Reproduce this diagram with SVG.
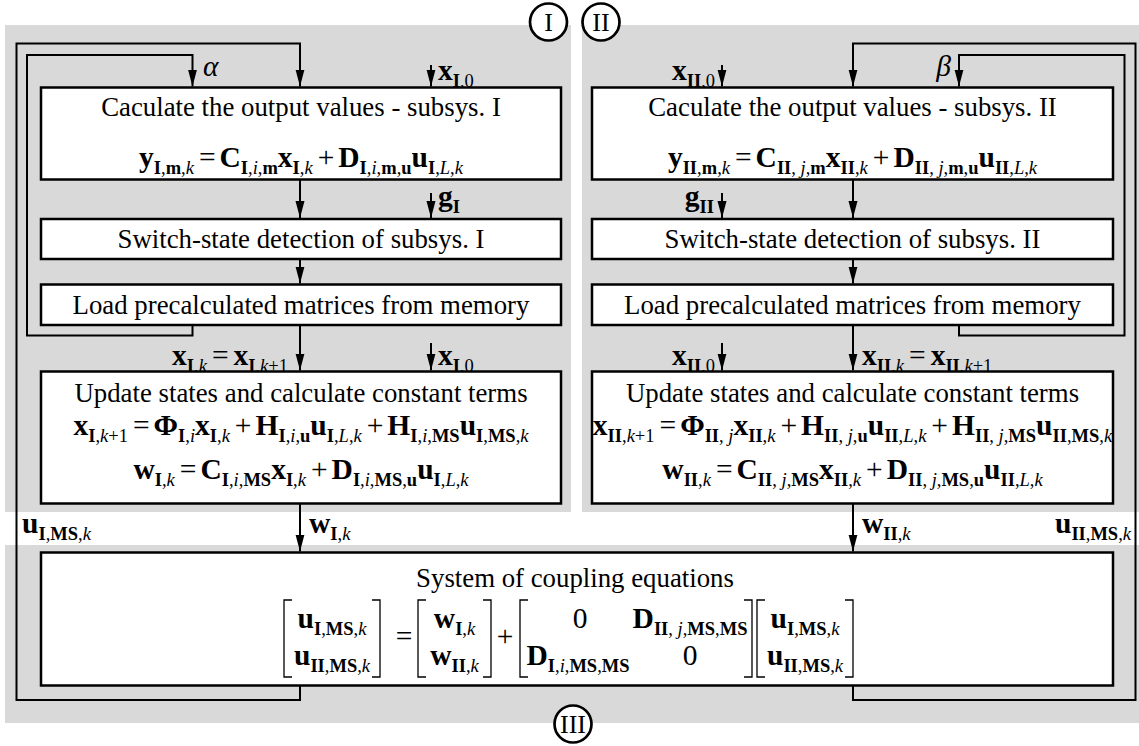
<svg xmlns="http://www.w3.org/2000/svg" width="1139" height="746" viewBox="0 0 1139 746">
<style>
.reg{fill:#d9d9d9}
.box{fill:#fff;stroke:#000;stroke-width:2.5}
.ln{fill:none;stroke:#000;stroke-width:2}
.circ{fill:#fff;stroke:#000;stroke-width:2.7}
.br{fill:none;stroke:#000;stroke-width:1.3}
text{font-family:"Liberation Serif","Times New Roman",serif;fill:#000}
.ttl{font-size:26.8px;text-anchor:middle}
.eq{font-size:29.5px;text-anchor:middle}
.lb{font-size:29.5px}
.end{text-anchor:end}
.mid{text-anchor:middle}
.b{font-weight:bold}
.i{font-style:italic}
.s{font-size:18.5px}
.cn{font-size:26px;text-anchor:middle}
</style>
<defs>
<marker id="ah" markerUnits="userSpaceOnUse" markerWidth="17" markerHeight="10" refX="17" refY="4.5" orient="auto">
<path d="M0,0 L17,4.5 L0,9 Z" fill="#000"/>
</marker>
</defs>
<g id="regions">
<rect class="reg" x="5" y="25" width="566" height="487"/>
<rect class="reg" x="582" y="25" width="557" height="487"/>
<rect class="reg" x="5" y="545" width="1134" height="178"/>
</g>
<g id="connectors">
<path class="ln" d="M300,685.5 V700 H16.5 V43.5 H300 V86.5" marker-end="url(#ah)"/>
<path class="ln" d="M192.5,325 V335.5 H27 V55 H192.5 V86.5" marker-end="url(#ah)"/>
<path class="ln" d="M300,179.5 V218" marker-end="url(#ah)"/>
<path class="ln" d="M300,259 V283.5" marker-end="url(#ah)"/>
<path class="ln" d="M300,325 V370.5" marker-end="url(#ah)"/>
<path class="ln" d="M300,503.5 V551.5" marker-end="url(#ah)"/>
<path class="ln" d="M431,65 V86.5" marker-end="url(#ah)"/>
<path class="ln" d="M431,193 V218" marker-end="url(#ah)"/>
<path class="ln" d="M431,343 V370.5" marker-end="url(#ah)"/>
<path class="ln" d="M853,685.5 V700 H1135.5 V43.5 H853 V86.5" marker-end="url(#ah)"/>
<path class="ln" d="M959,325 V335.5 H1124.5 V55 H959 V86.5" marker-end="url(#ah)"/>
<path class="ln" d="M853,179.5 V218" marker-end="url(#ah)"/>
<path class="ln" d="M853,259 V283.5" marker-end="url(#ah)"/>
<path class="ln" d="M853,325 V370.5" marker-end="url(#ah)"/>
<path class="ln" d="M853,503.5 V551.5" marker-end="url(#ah)"/>
<path class="ln" d="M722,65 V86.5" marker-end="url(#ah)"/>
<path class="ln" d="M722,193 V218" marker-end="url(#ah)"/>
<path class="ln" d="M722,343 V370.5" marker-end="url(#ah)"/>
</g>
<g id="labels">
<text class="lb i" x="203" y="76">α</text>
<text class="lb" x="438" y="80"><tspan class="b">x</tspan><tspan class="s" dy="6.5"><tspan class="b">I</tspan>,0</tspan></text>
<text class="lb" x="438" y="206"><tspan class="b">g</tspan><tspan class="s b" dy="6.5">I</tspan></text>
<text class="lb end" x="288" y="365"><tspan class="b">x</tspan><tspan class="s" dy="6.5"><tspan class="b">I</tspan>,<tspan class="i">k</tspan></tspan><tspan dy="-6.5" dx="5">=</tspan><tspan class="b" dx="5">x</tspan><tspan class="s" dy="6.5"><tspan class="b">I</tspan>,<tspan class="i">k</tspan>+1</tspan></text>
<text class="lb" x="438" y="365"><tspan class="b">x</tspan><tspan class="s" dy="6.5"><tspan class="b">I</tspan>,0</tspan></text>
<text class="lb" x="22" y="533"><tspan class="b">u</tspan><tspan class="s" dy="6.5"><tspan class="b">I</tspan>,<tspan class="b">MS</tspan>,<tspan class="i">k</tspan></tspan></text>
<text class="lb" x="309" y="533"><tspan class="b">w</tspan><tspan class="s" dy="6.5"><tspan class="b">I</tspan>,<tspan class="i">k</tspan></tspan></text>
<text class="lb i end" x="951" y="76">β</text>
<text class="lb end" x="715" y="80"><tspan class="b">x</tspan><tspan class="s" dy="6.5"><tspan class="b">II</tspan>,0</tspan></text>
<text class="lb end" x="714" y="206"><tspan class="b">g</tspan><tspan class="s b" dy="6.5">II</tspan></text>
<text class="lb end" x="715" y="365"><tspan class="b">x</tspan><tspan class="s" dy="6.5"><tspan class="b">II</tspan>,0</tspan></text>
<text class="lb" x="862" y="365"><tspan class="b">x</tspan><tspan class="s" dy="6.5"><tspan class="b">II</tspan>,<tspan class="i">k</tspan></tspan><tspan dy="-6.5" dx="5">=</tspan><tspan class="b" dx="5">x</tspan><tspan class="s" dy="6.5"><tspan class="b">II</tspan>,<tspan class="i">k</tspan>+1</tspan></text>
<text class="lb" x="862" y="533"><tspan class="b">w</tspan><tspan class="s" dy="6.5"><tspan class="b">II</tspan>,<tspan class="i">k</tspan></tspan></text>
<text class="lb end" x="1131" y="533"><tspan class="b">u</tspan><tspan class="s" dy="6.5"><tspan class="b">II</tspan>,<tspan class="b">MS</tspan>,<tspan class="i">k</tspan></tspan></text>
</g>
<g id="node-out1">
<rect class="box" x="41" y="87.5" width="520" height="92"/>
<text class="ttl" x="301" y="116">Caculate the output values - subsys. I</text>
<text class="eq" x="301" y="167"><tspan class="b">y</tspan><tspan class="s" dy="6.5"><tspan class="b">I</tspan>,<tspan class="b">m</tspan>,<tspan class="i">k</tspan></tspan><tspan dy="-6.5" dx="5">=</tspan><tspan class="b" dx="4">C</tspan><tspan class="s" dy="6.5"><tspan class="b">I</tspan>,<tspan class="i">i</tspan>,<tspan class="b">m</tspan></tspan><tspan class="b" dy="-6.5">x</tspan><tspan class="s" dy="6.5"><tspan class="b">I</tspan>,<tspan class="i">k</tspan></tspan><tspan dy="-6.5" dx="5">+</tspan><tspan class="b" dx="4">D</tspan><tspan class="s" dy="6.5"><tspan class="b">I</tspan>,<tspan class="i">i</tspan>,<tspan class="b">m</tspan>,<tspan class="b">u</tspan></tspan><tspan class="b" dy="-6.5">u</tspan><tspan class="s" dy="6.5"><tspan class="b">I</tspan>,<tspan class="i">L</tspan>,<tspan class="i">k</tspan></tspan></text>
</g>
<g id="node-switch1">
<rect class="box" x="41" y="219" width="520" height="40"/>
<text class="ttl" x="301" y="247.5">Switch-state detection of subsys. I</text>
</g>
<g id="node-load1">
<rect class="box" x="41" y="284.5" width="520" height="40.5"/>
<text class="ttl" x="301" y="313.5">Load precalculated matrices from memory</text>
</g>
<g id="node-update1">
<rect class="box" x="41" y="371.5" width="520" height="132"/>
<text class="ttl" x="301" y="401.5">Update states and calculate constant terms</text>
<text class="eq" x="301" y="435"><tspan class="b">x</tspan><tspan class="s" dy="6.5"><tspan class="b">I</tspan>,<tspan class="i">k</tspan>+1</tspan><tspan dy="-6.5" dx="5">=</tspan><tspan class="b" dx="4">Φ</tspan><tspan class="s" dy="6.5"><tspan class="b">I</tspan>,<tspan class="i">i</tspan></tspan><tspan class="b" dy="-6.5">x</tspan><tspan class="s" dy="6.5"><tspan class="b">I</tspan>,<tspan class="i">k</tspan></tspan><tspan dy="-6.5" dx="5">+</tspan><tspan class="b" dx="4">H</tspan><tspan class="s" dy="6.5"><tspan class="b">I</tspan>,<tspan class="i">i</tspan>,<tspan class="b">u</tspan></tspan><tspan class="b" dy="-6.5">u</tspan><tspan class="s" dy="6.5"><tspan class="b">I</tspan>,<tspan class="i">L</tspan>,<tspan class="i">k</tspan></tspan><tspan dy="-6.5" dx="5">+</tspan><tspan class="b" dx="4">H</tspan><tspan class="s" dy="6.5"><tspan class="b">I</tspan>,<tspan class="i">i</tspan>,<tspan class="b">MS</tspan></tspan><tspan class="b" dy="-6.5">u</tspan><tspan class="s" dy="6.5"><tspan class="b">I</tspan>,<tspan class="b">MS</tspan>,<tspan class="i">k</tspan></tspan></text>
<text class="eq" x="301" y="479"><tspan class="b">w</tspan><tspan class="s" dy="6.5"><tspan class="b">I</tspan>,<tspan class="i">k</tspan></tspan><tspan dy="-6.5" dx="5">=</tspan><tspan class="b" dx="4">C</tspan><tspan class="s" dy="6.5"><tspan class="b">I</tspan>,<tspan class="i">i</tspan>,<tspan class="b">MS</tspan></tspan><tspan class="b" dy="-6.5">x</tspan><tspan class="s" dy="6.5"><tspan class="b">I</tspan>,<tspan class="i">k</tspan></tspan><tspan dy="-6.5" dx="5">+</tspan><tspan class="b" dx="4">D</tspan><tspan class="s" dy="6.5"><tspan class="b">I</tspan>,<tspan class="i">i</tspan>,<tspan class="b">MS</tspan>,<tspan class="b">u</tspan></tspan><tspan class="b" dy="-6.5">u</tspan><tspan class="s" dy="6.5"><tspan class="b">I</tspan>,<tspan class="i">L</tspan>,<tspan class="i">k</tspan></tspan></text>
</g>
<g id="node-out2">
<rect class="box" x="592" y="87.5" width="521" height="92"/>
<text class="ttl" x="852.5" y="116">Caculate the output values - subsys. II</text>
<text class="eq" x="852.5" y="167"><tspan class="b">y</tspan><tspan class="s" dy="6.5"><tspan class="b">II</tspan>,<tspan class="b">m</tspan>,<tspan class="i">k</tspan></tspan><tspan dy="-6.5" dx="5">=</tspan><tspan class="b" dx="4">C</tspan><tspan class="s" dy="6.5"><tspan class="b">II</tspan>, <tspan class="i">j</tspan>,<tspan class="b">m</tspan></tspan><tspan class="b" dy="-6.5">x</tspan><tspan class="s" dy="6.5"><tspan class="b">II</tspan>,<tspan class="i">k</tspan></tspan><tspan dy="-6.5" dx="5">+</tspan><tspan class="b" dx="4">D</tspan><tspan class="s" dy="6.5"><tspan class="b">II</tspan>, <tspan class="i">j</tspan>,<tspan class="b">m</tspan>,<tspan class="b">u</tspan></tspan><tspan class="b" dy="-6.5">u</tspan><tspan class="s" dy="6.5"><tspan class="b">II</tspan>,<tspan class="i">L</tspan>,<tspan class="i">k</tspan></tspan></text>
</g>
<g id="node-switch2">
<rect class="box" x="592" y="219" width="521" height="40"/>
<text class="ttl" x="852.5" y="247.5">Switch-state detection of subsys. II</text>
</g>
<g id="node-load2">
<rect class="box" x="592" y="284.5" width="521" height="40.5"/>
<text class="ttl" x="852.5" y="313.5">Load precalculated matrices from memory</text>
</g>
<g id="node-update2">
<rect class="box" x="592" y="371.5" width="521" height="132"/>
<text class="ttl" x="852.5" y="401.5">Update states and calculate constant terms</text>
<text class="eq" x="852.5" y="435"><tspan class="b">x</tspan><tspan class="s" dy="6.5"><tspan class="b">II</tspan>,<tspan class="i">k</tspan>+1</tspan><tspan dy="-6.5" dx="5">=</tspan><tspan class="b" dx="4">Φ</tspan><tspan class="s" dy="6.5"><tspan class="b">II</tspan>, <tspan class="i">j</tspan></tspan><tspan class="b" dy="-6.5">x</tspan><tspan class="s" dy="6.5"><tspan class="b">II</tspan>,<tspan class="i">k</tspan></tspan><tspan dy="-6.5" dx="5">+</tspan><tspan class="b" dx="4">H</tspan><tspan class="s" dy="6.5"><tspan class="b">II</tspan>, <tspan class="i">j</tspan>,<tspan class="b">u</tspan></tspan><tspan class="b" dy="-6.5">u</tspan><tspan class="s" dy="6.5"><tspan class="b">II</tspan>,<tspan class="i">L</tspan>,<tspan class="i">k</tspan></tspan><tspan dy="-6.5" dx="5">+</tspan><tspan class="b" dx="4">H</tspan><tspan class="s" dy="6.5"><tspan class="b">II</tspan>, <tspan class="i">j</tspan>,<tspan class="b">MS</tspan></tspan><tspan class="b" dy="-6.5">u</tspan><tspan class="s" dy="6.5"><tspan class="b">II</tspan>,<tspan class="b">MS</tspan>,<tspan class="i">k</tspan></tspan></text>
<text class="eq" x="852.5" y="479"><tspan class="b">w</tspan><tspan class="s" dy="6.5"><tspan class="b">II</tspan>,<tspan class="i">k</tspan></tspan><tspan dy="-6.5" dx="5">=</tspan><tspan class="b" dx="4">C</tspan><tspan class="s" dy="6.5"><tspan class="b">II</tspan>, <tspan class="i">j</tspan>,<tspan class="b">MS</tspan></tspan><tspan class="b" dy="-6.5">x</tspan><tspan class="s" dy="6.5"><tspan class="b">II</tspan>,<tspan class="i">k</tspan></tspan><tspan dy="-6.5" dx="5">+</tspan><tspan class="b" dx="4">D</tspan><tspan class="s" dy="6.5"><tspan class="b">II</tspan>, <tspan class="i">j</tspan>,<tspan class="b">MS</tspan>,<tspan class="b">u</tspan></tspan><tspan class="b" dy="-6.5">u</tspan><tspan class="s" dy="6.5"><tspan class="b">II</tspan>,<tspan class="i">L</tspan>,<tspan class="i">k</tspan></tspan></text>
</g>
<g id="node-coupling">
<rect class="box" x="41" y="552.5" width="1072" height="133"/>
<text class="ttl" x="575" y="587">System of coupling equations</text>
<path class="br" d="M292,600 H284 V677 H292 M372,600 H380 V677 H372 M426,600 H418 V677 H426 M483,600 H491 V677 H483 M528,600 H520 V677 H528 M744,600 H752 V677 H744 M765,600 H757 V677 H765 M845,600 H853 V677 H845"/>
<text class="lb mid" x="332" y="628"><tspan class="b">u</tspan><tspan class="s" dy="6.5"><tspan class="b">I</tspan>,<tspan class="b">MS</tspan>,<tspan class="i">k</tspan></tspan></text>
<text class="lb mid" x="332" y="665"><tspan class="b">u</tspan><tspan class="s" dy="6.5"><tspan class="b">II</tspan>,<tspan class="b">MS</tspan>,<tspan class="i">k</tspan></tspan></text>
<text class="lb mid" x="404" y="646">=</text>
<text class="lb mid" x="454.5" y="628"><tspan class="b">w</tspan><tspan class="s" dy="6.5"><tspan class="b">I</tspan>,<tspan class="i">k</tspan></tspan></text>
<text class="lb mid" x="454.5" y="665"><tspan class="b">w</tspan><tspan class="s" dy="6.5"><tspan class="b">II</tspan>,<tspan class="i">k</tspan></tspan></text>
<text class="lb mid" x="505" y="646">+</text>
<text class="lb mid" x="580" y="628">0</text>
<text class="lb mid" x="690" y="628"><tspan class="b">D</tspan><tspan class="s" dy="6.5"><tspan class="b">II</tspan>, <tspan class="i">j</tspan>,<tspan class="b">MS</tspan>,<tspan class="b">MS</tspan></tspan></text>
<text class="lb mid" x="578" y="665"><tspan class="b">D</tspan><tspan class="s" dy="6.5"><tspan class="b">I</tspan>,<tspan class="i">i</tspan>,<tspan class="b">MS</tspan>,<tspan class="b">MS</tspan></tspan></text>
<text class="lb mid" x="690" y="665">0</text>
<text class="lb mid" x="805" y="628"><tspan class="b">u</tspan><tspan class="s" dy="6.5"><tspan class="b">I</tspan>,<tspan class="b">MS</tspan>,<tspan class="i">k</tspan></tspan></text>
<text class="lb mid" x="805" y="665"><tspan class="b">u</tspan><tspan class="s" dy="6.5"><tspan class="b">II</tspan>,<tspan class="b">MS</tspan>,<tspan class="i">k</tspan></tspan></text>
</g>
<g id="circle-I">
<circle class="circ" cx="548.5" cy="22" r="18.5"/>
<text class="cn" x="548.5" y="31">I</text>
</g>
<g id="circle-II">
<circle class="circ" cx="601" cy="22" r="18.5"/>
<text class="cn" x="601" y="31">II</text>
</g>
<g id="circle-III">
<circle class="circ" cx="573" cy="724" r="18.5"/>
<text class="cn" x="573" y="733">III</text>
</g>
</svg>
